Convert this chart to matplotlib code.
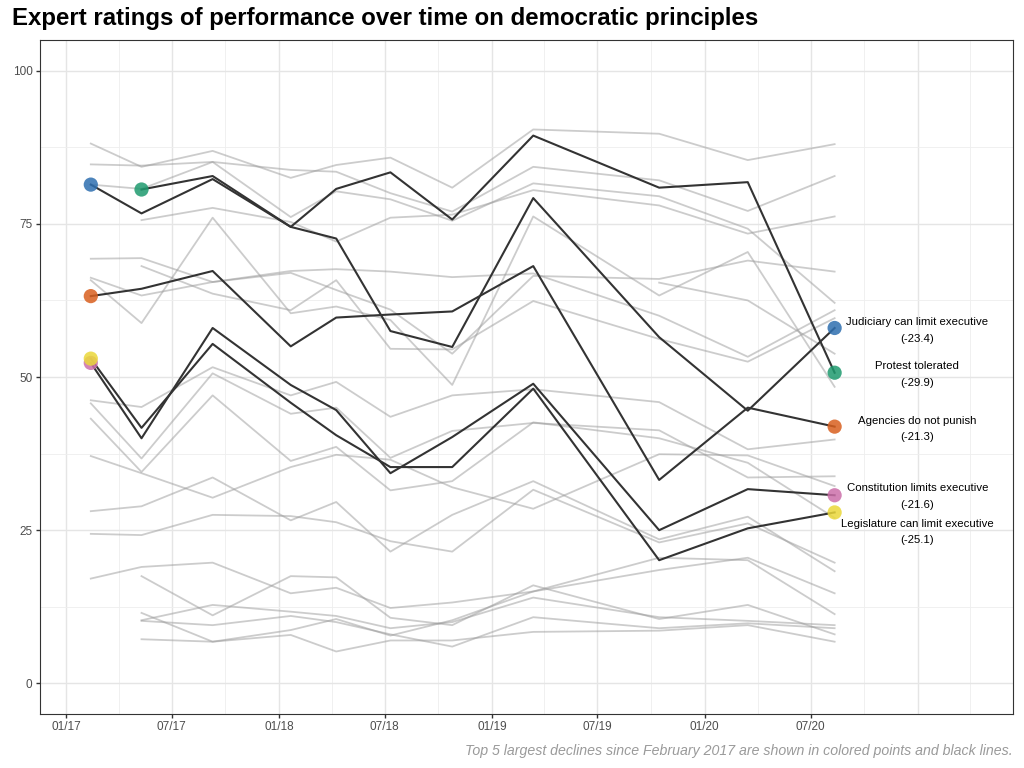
import matplotlib
matplotlib.use("Agg")
import matplotlib.pyplot as plt
import numpy as np
import pandas as pd

plt.rcParams["font.family"] = ["Liberation Sans", "DejaVu Sans"]

# survey waves
waves = ["2017-02-12", "2017-05-10", "2017-09-09", "2018-01-21", "2018-04-09",
         "2018-07-11", "2018-10-25", "2019-03-13", "2019-10-15", "2020-03-15",
         "2020-08-11"]

# highlighted principles (top 5 declines)
judiciary = [81.4, 76.7, 82.3, 74.5, 72.6, 57.5, 54.9, 79.2, 56.5, 44.5, 58.0]
protest = [None, 80.6, 82.8, 74.5, 80.7, 83.4, 75.7, 89.4, 80.9, 81.8, 50.7]
agencies = [63.2, 64.4, 67.3, 55.0, 59.7, 60.2, 60.7, 68.1, 33.2, 45.0, 41.9]
constitution = [52.3, 40.0, 58.0, 48.7, 44.6, 34.3, 40.2, 48.9, 25.0, 31.7, 30.7]
legislature = [53.0, 41.7, 55.4, 45.8, 40.5, 35.3, 35.3, 48.1, 20.1, 25.3, 27.9]

hl_names = ["Judiciary can limit executive", "Protest tolerated", "Agencies do not punish",
            "Constitution limits executive", "Legislature can limit executive"]
hl_declines = [-23.4, -29.9, -21.3, -21.6, -25.1]
hl_colors = ["#2E6FB0", "#1E9A6E", "#D95F1E", "#CC6FAA", "#EAD83A"]

# other principles
other_01 = [88.1, 84.3, 86.9, 82.5, 84.6, 85.8, 80.9, 90.4, 89.7, 85.4, 88.0]
other_02 = [84.7, 84.5, 85.1, 83.8, 83.5, 80.0, 77.0, 84.3, 82.1, 77.1, 82.8]
other_03 = [81.4, 80.7, 85.1, 76.1, 80.3, 79.0, 75.5, 81.6, 79.5, 74.2, 62.1]
other_04 = [None, 75.6, 77.6, 75.3, 72.1, 76.0, 76.5, 80.5, 78.0, 73.4, 76.2]
other_05 = [69.3, 69.4, 65.5, 67.3, 67.6, 67.2, 66.3, 66.9, 60.0, 53.3, 60.9]
other_06 = [66.2, 63.3, 65.5, 67.0, 64.2, 61.0, 53.8, 66.5, 66.0, 69.0, 67.2]
other_07 = [65.8, 58.8, 76.0, 60.4, 61.5, 59.3, 48.7, 76.2, 63.3, 70.4, 48.4]
other_08 = [None, 68.1, 63.6, 60.9, 65.8, 54.6, 54.5, 62.4, 56.2, 52.5, 59.6]
other_09 = [46.2, 45.1, 51.6, 47.0, 49.2, 43.5, 47.0, 48.0, 45.9, 38.2, 39.8]
other_10 = [45.7, 36.7, 50.6, 44.0, 45.0, 36.8, 41.2, 42.5, 41.3, 33.6, 33.8]
other_11 = [43.2, 34.5, 47.0, 36.3, 38.6, 31.5, 33.0, 42.6, 40.0, 36.0, 27.0]
other_12 = [37.1, 34.3, 30.3, 35.3, 37.3, 36.5, 32.0, 28.5, 37.4, 37.2, 32.2]
other_13 = [28.1, 28.9, 33.6, 26.6, 29.6, 21.5, 27.5, 33.0, 23.5, 27.2, 18.3]
other_14 = [24.4, 24.2, 27.5, 27.3, 26.3, 23.2, 21.5, 31.6, 23.0, 26.1, 19.7]
other_15 = [17.1, 19.0, 19.7, 14.7, 15.6, 12.3, 13.2, 15.0, 18.5, 20.5, 14.7]
other_16 = [None, 17.5, 11.1, 17.5, 17.3, 10.7, 9.5, 16.0, 10.5, 12.8, 8.0]
other_17 = [None, 11.5, 6.8, 8.7, 10.5, 7.8, 10.3, 15.0, 20.5, 20.1, 11.3]
other_18 = [None, 10.3, 12.8, 11.7, 11.0, 9.0, 10.0, 14.0, 10.8, 10.2, 9.5]
other_19 = [None, 10.2, 9.5, 11.0, 10.0, 8.0, 6.0, 10.8, 9.0, 9.8, 9.0]
other_20 = [None, 7.2, 6.8, 7.9, 5.2, 7.0, 7.0, 8.4, 8.6, 9.5, 6.8]
other_21 = [None, None, None, None, None, None, None, None, 65.4, 62.5, 53.8]

others = [other_01, other_02, other_03, other_04, other_05, other_06, other_07,
          other_08, other_09, other_10, other_11, other_12, other_13, other_14,
          other_15, other_16, other_17, other_18, other_19, other_20, other_21]
highlights = [judiciary, protest, agencies, constitution, legislature]

dates = pd.to_datetime(waves)

fig = plt.figure(figsize=(10.24, 7.68), dpi=100)
ax = fig.add_axes([39.5 / 1024, 1 - 714 / 768, (1013 - 39.5) / 1024, (714 - 40) / 768])

def as_arr(v):
    return np.array([np.nan if a is None else a for a in v], dtype=float)

for s in others:
    ax.plot(dates, as_arr(s), color="#9a9a9a", alpha=0.5, lw=1.3, zorder=2)
for s in highlights:
    ax.plot(dates, as_arr(s), color="#333333", lw=1.5, zorder=3)

# colored points at first and last observation
for s, c in zip(highlights, hl_colors):
    arr = as_arr(s)
    idx = np.where(~np.isnan(arr))[0]
    for i in (idx[0], idx[-1]):
        ax.scatter(dates[i], arr[i], s=105, color=c, alpha=0.85, zorder=4,
                   edgecolors="none")

# labels at the end
label_x = pd.Timestamp("2020-12-31")
label_offsets = [-0.4, -0.3, -0.4, -0.2, -3.2]
for s, name, d, off in zip(highlights, hl_names, hl_declines, label_offsets):
    yv = as_arr(s)[-1] + off
    ax.text(label_x, yv, f"{name}\n({d})", ha="center", va="center",
            fontsize=8.2, color="black", linespacing=1.85, zorder=5)

# axes setup
ax.set_xlim(pd.Timestamp("2016-11-16"), pd.Timestamp("2021-06-13"))
ax.set_ylim(-5, 105)
ax.set_yticks([0, 25, 50, 75, 100])
ax.set_yticks([12.5, 37.5, 62.5, 87.5], minor=True)
major = pd.to_datetime(["2017-01-01", "2017-07-01", "2018-01-01", "2018-07-01",
                        "2019-01-01", "2019-07-01", "2020-01-01", "2020-07-01"])
ax.set_xticks(major)
ax.set_xticklabels([d.strftime("%m/%y") for d in major])
extra_major = pd.to_datetime(["2021-01-01"])
minor = pd.to_datetime(["2017-04-01", "2017-10-01", "2018-04-01", "2018-10-01",
                        "2019-04-01", "2019-10-01", "2020-04-01", "2020-10-01",
                        "2021-04-01"])
ax.set_xticks(minor, minor=True)
ax.grid(which="major", color="#E5E5E5", lw=1.0, zorder=0)
ax.grid(which="minor", color="#EEEEEE", lw=0.6, zorder=0)
for d in extra_major:
    ax.axvline(d, color="#E5E5E5", lw=1.0, zorder=0)
ax.tick_params(axis="both", which="major", labelsize=8.5, colors="#333333",
               length=3, width=1, labelcolor="#4D4D4D", pad=2)
ax.tick_params(axis="both", which="minor", length=0)
for sp in ax.spines.values():
    sp.set_color("#333333")
    sp.set_linewidth(0.8)
ax.set_axisbelow(True)

fig.text(12 / 1024, 1 - 18 / 768, "Expert ratings of performance over time on democratic principles",
         fontsize=17.3, fontweight="bold", ha="left", va="center", color="black")
fig.text(1013 / 1024, 1 - 751 / 768,
         "Top 5 largest declines since February 2017 are shown in colored points and black lines.",
         fontsize=10.2, style="italic", ha="right", va="center", color="#9A9A9A")

fig.savefig("out.png", dpi=100)
